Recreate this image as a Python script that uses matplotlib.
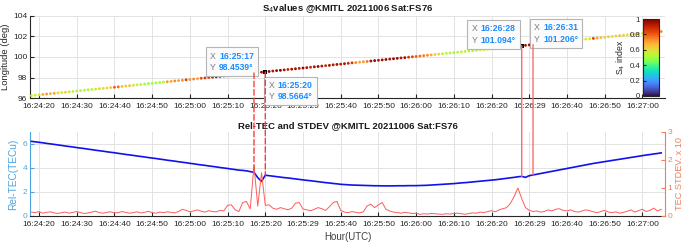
import matplotlib
matplotlib.use("Agg")
import matplotlib.pyplot as plt
import matplotlib.dates as mdates
import numpy as np
import pandas as pd
from matplotlib.offsetbox import TextArea, HPacker, AnnotationBbox
from matplotlib.patches import ConnectionPatch

plt.rcParams['font.family'] = ['Liberation Sans', 'DejaVu Sans']

# ---------------- data ----------------
date = "2021-10-06"
start_time = "16:24:18"          # first sample, 1 Hz

longitude = [
    96.26, 96.30, 96.33, 96.37, 96.41, 96.45, 96.48, 96.52, 96.56, 96.59,
    96.63, 96.67, 96.70, 96.74, 96.78, 96.82, 96.85, 96.89, 96.93, 96.96,
    97.00, 97.04, 97.07, 97.11, 97.15, 97.19, 97.22, 97.26, 97.30, 97.33,
    97.38, 97.42, 97.45, 97.49, 97.53, 97.57, 97.60, 97.64, 97.68, 97.71,
    97.75, 97.79, 97.82, 97.86, 97.90, 97.94, 97.97, 98.01, 98.05, 98.08,
    98.12, 98.16, 98.19, 98.23, 98.27, 98.31, 98.34, 98.38, 98.42, 98.45,
    98.49, 98.53, 98.57, 98.60, 98.64, 98.68, 98.71, 98.75, 98.79, 98.82,
    98.86, 98.90, 98.93, 98.97, 99.01, 99.05, 99.08, 99.12, 99.16, 99.19,
    99.24, 99.28, 99.31, 99.35, 99.39, 99.43, 99.46, 99.50, 99.54, 99.57,
    99.61, 99.65, 99.68, 99.72, 99.76, 99.80, 99.83, 99.87, 99.91, 99.94,
    99.98, 100.02, 100.05, 100.09, 100.13, 100.17, 100.20, 100.24, 100.28, 100.31,
    100.35, 100.39, 100.42, 100.46, 100.50, 100.54, 100.57, 100.61, 100.65, 100.68,
    100.72, 100.76, 100.79, 100.83, 100.87, 100.91, 100.94, 100.98, 101.02, 101.05,
    101.09, 101.13, 101.17, 101.21, 101.24, 101.28, 101.32, 101.35, 101.39, 101.43,
    101.47, 101.51, 101.54, 101.58, 101.62, 101.66, 101.69, 101.73, 101.77, 101.80,
    101.84, 101.88, 101.91, 101.95, 101.99, 102.03, 102.06, 102.10, 102.14, 102.17,
    102.21, 102.25, 102.28, 102.32, 102.36, 102.40, 102.43, 102.47,
]

s4_index = [
    0.54, 0.56, 0.58, 0.70, 0.72, 0.68, 0.71, 0.62, 0.60, 0.63,
    0.60, 0.52, 0.55, 0.50, 0.53, 0.56, 0.52, 0.60, 0.62, 0.59,
    0.61, 0.64, 0.80, 0.78, 0.66, 0.64, 0.66, 0.56, 0.54, 0.55,
    0.50, 0.48, 0.52, 0.49, 0.51, 0.50, 0.72, 0.70, 0.74, 0.71,
    0.73, 0.85, 0.72, 0.74, 0.70, 0.82, 0.86, 0.84, 0.92, 0.95,
    0.96, 0.93, 0.98, 0.95, 1.00, 0.97, 0.94, 0.98, 0.99, 1.00,
    0.97, 0.95, 1.00, 0.98, 0.93, 0.96, 0.99, 0.94, 0.90, 0.95,
    0.96, 0.92, 0.97, 0.94, 0.89, 0.95, 0.98, 0.93, 0.88, 0.94,
    0.93, 0.95, 0.92, 0.94, 0.90, 0.86, 0.74, 0.70, 0.72, 0.76,
    0.95, 0.97, 0.93, 0.96, 0.98, 0.94, 0.97, 0.95, 0.93, 0.96,
    0.86, 0.84, 0.80, 0.78, 0.76, 0.74, 0.70, 0.64, 0.62, 0.60,
    0.52, 0.55, 0.50, 0.53, 0.56, 0.52, 0.55, 0.50, 0.53, 0.56,
    0.54, 0.56, 0.52, 0.58, 0.55, 0.62, 0.66, 0.86, 0.92, 0.95,
    1.00, 0.94, 0.96, 1.00, 0.90, 0.80, 0.74, 0.70, 0.66, 0.72,
    0.64, 0.66, 0.70, 0.62, 0.64, 0.60, 0.62, 0.58, 0.60, 0.84,
    0.70, 0.66, 0.62, 0.64, 0.60, 0.62, 0.66, 0.63, 0.60, 0.64,
    0.66, 0.62, 0.60, 0.70, 0.72, 0.76, 0.86, 0.74,
]

rel_tec = [
    6.22, 6.18, 6.14, 6.10, 6.05, 6.01, 5.97, 5.92, 5.88, 5.83,
    5.79, 5.75, 5.70, 5.66, 5.62, 5.57, 5.53, 5.48, 5.44, 5.40,
    5.35, 5.31, 5.27, 5.22, 5.18, 5.13, 5.09, 5.05, 5.00, 4.96,
    4.92, 4.87, 4.83, 4.79, 4.74, 4.70, 4.65, 4.61, 4.57, 4.52,
    4.48, 4.44, 4.39, 4.35, 4.30, 4.26, 4.22, 4.17, 4.13, 4.09,
    4.04, 4.00, 3.96, 3.91, 3.87, 3.82, 3.80, 3.76, 3.70, 3.64,
    3.20, 2.88, 3.40, 3.36, 3.32, 3.28, 3.24, 3.20, 3.17, 3.13,
    3.09, 3.05, 3.01, 2.97, 2.94, 2.90, 2.86, 2.82, 2.78, 2.75,
    2.71, 2.68, 2.64, 2.62, 2.60, 2.58, 2.57, 2.56, 2.55, 2.54,
    2.53, 2.52, 2.52, 2.51, 2.51, 2.51, 2.51, 2.52, 2.52, 2.52,
    2.53, 2.53, 2.53, 2.54, 2.55, 2.56, 2.58, 2.60, 2.62, 2.64,
    2.66, 2.68, 2.70, 2.73, 2.76, 2.78, 2.81, 2.84, 2.87, 2.90,
    2.93, 2.96, 2.99, 3.02, 3.06, 3.10, 3.14, 3.18, 3.22, 3.27,
    3.30, 3.22, 3.36, 3.42, 3.48, 3.54, 3.60, 3.66, 3.72, 3.78,
    3.84, 3.90, 3.96, 4.02, 4.08, 4.14, 4.20, 4.26, 4.32, 4.38,
    4.43, 4.48, 4.53, 4.58, 4.63, 4.68, 4.73, 4.78, 4.83, 4.88,
    4.93, 4.98, 5.03, 5.08, 5.12, 5.17, 5.21, 5.26,
]

tec_stdev_x10 = [
    0.14, 0.12, 0.16, 0.10, 0.13, 0.15, 0.11, 0.09, 0.12, 0.14,
    0.10, 0.13, 0.16, 0.12, 0.09, 0.11, 0.14, 0.17, 0.12, 0.10,
    0.13, 0.15, 0.11, 0.12, 0.16, 0.13, 0.10, 0.12, 0.15, 0.11,
    0.13, 0.17, 0.12, 0.10, 0.14, 0.12, 0.15, 0.13, 0.11, 0.16,
    0.24, 0.20, 0.15, 0.18, 0.22, 0.17, 0.14, 0.19, 0.16, 0.15,
    0.20, 0.18, 0.38, 0.40, 0.22, 0.16, 0.48, 0.52, 0.25, 1.80,
    0.35, 1.55, 0.38, 0.40, 0.28, 0.24, 0.30, 0.26, 0.22, 0.28,
    0.46, 0.48, 0.25, 0.22, 0.19, 0.24, 0.30, 0.26, 0.20, 0.33,
    0.48, 0.52, 0.20, 0.14, 0.12, 0.16, 0.13, 0.11, 0.15, 0.36,
    0.42, 0.30, 0.40, 0.48, 0.24, 0.18, 0.14, 0.12, 0.10, 0.13,
    0.11, 0.09, 0.10, 0.06, 0.08, 0.07, 0.09, 0.08, 0.07, 0.06,
    0.08, 0.07, 0.09, 0.10, 0.08, 0.06, 0.09, 0.11, 0.10, 0.14,
    0.12, 0.16, 0.19, 0.15, 0.22, 0.26, 0.30, 0.45, 0.70, 1.00,
    0.62, 0.30, 0.20, 0.16, 0.18, 0.14, 0.16, 0.22, 0.18, 0.24,
    0.26, 0.20, 0.18, 0.22, 0.16, 0.14, 0.18, 0.22, 0.19, 0.15,
    0.12, 0.16, 0.20, 0.14, 0.12, 0.15, 0.10, 0.13, 0.17, 0.22,
    0.14, 0.19, 0.24, 0.16, 0.20, 0.28, 0.18, 0.24,
]

tick_times = ["16:24:20", "16:24:30", "16:24:40", "16:24:50", "16:25:00",
              "16:25:10", "16:25:20", "16:25:30", "16:25:40", "16:25:50",
              "16:26:00", "16:26:10", "16:26:20", "16:26:30", "16:26:40",
              "16:26:50", "16:27:00"]
tick_labels = ["16:24:20", "16:24:30", "16:24:40", "16:24:50", "16:25:00",
               "16:25:10", "16:25:20", "16:25:29", "16:25:40", "16:25:50",
               "16:26:00", "16:26:10", "16:26:20", "16:26:29", "16:26:40",
               "16:26:50", "16:27:00"]

tip_times = ["16:25:17", "16:25:20", "16:26:28", "16:26:31"]
tip_lons = [98.4539, 98.5664, 101.094, 101.206]
tip_lon_labels = ["98.4539°", "98.5664°", "101.094°", "101.206°"]

# ---------------- figure ----------------
W, H = 685, 243
fig = plt.figure(figsize=(W / 100, H / 100), dpi=100)

def fx(px):
    return px / W

def fy(py):
    return 1 - py / H

ax1 = fig.add_axes([fx(30), fy(98.3), fx(635), (98.3 - 15.7) / H])
ax2 = fig.add_axes([fx(30), fy(216), fx(635), (216 - 132) / H])

times = pd.date_range(f"{date} {start_time}", periods=len(longitude), freq="s")
xnum = mdates.date2num(times.to_pydatetime())
ticks = mdates.date2num(pd.to_datetime([f"{date} {t}" for t in tick_times]).to_pydatetime())
tipx = mdates.date2num(pd.to_datetime([f"{date} {t}" for t in tip_times]).to_pydatetime())
xl = (mdates.date2num(pd.Timestamp(f"{date} 16:24:17.6").to_pydatetime()),
      mdates.date2num(pd.Timestamp(f"{date} 16:27:06.0").to_pydatetime()))

grid_c = "#e3e3e3"
dark = "#262626"
tick_fs = 6.0

# ---- top panel ----
sc = ax1.scatter(xnum, longitude, c=s4_index, cmap="turbo", vmin=0, vmax=1,
                 s=4.2, marker="o", linewidths=0, zorder=3)
ax1.scatter(tipx, tip_lons, c="k", s=5, marker="s", linewidths=0, zorder=4)
ax1.set_xlim(*xl)
ax1.set_ylim(96, 104)
ax1.set_yticks([96, 98, 100, 102, 104])
ax1.set_xticks(ticks)
ax1.set_xticklabels(tick_labels)
ax1.set_ylabel("Longitude (deg)", fontsize=6.8, labelpad=2, color=dark)
ax1.set_title("S$_4$values @KMITL 20211006 Sat:FS76", fontsize=6.8,
              fontweight="bold", pad=3, color="#1a1a1a")
ax1.grid(True, color=grid_c, lw=0.7)
ax1.set_axisbelow(True)
for s in ["top", "right"]:
    ax1.spines[s].set_visible(False)
for s in ["left", "bottom"]:
    ax1.spines[s].set_color(dark)
    ax1.spines[s].set_linewidth(0.8)
ax1.tick_params(axis="x", direction="in", length=3, labelsize=tick_fs, colors=dark, pad=3.5)
ax1.tick_params(axis="y", direction="in", length=3, labelsize=tick_fs, colors=dark, pad=2)

# data tips
tip_offsets = [((1, 0), (0, 0.7)), ((0, 1), (2.2, -6.5)),
               ((1, 0), (-4.3, 0.7)), ((0, 0), (0.7, 0.7))]
for i in range(len(tip_times)):
    ta = TextArea("X\nY", textprops=dict(color="#7a7a7a", fontsize=6.2, linespacing=1.35))
    tb = TextArea(f"{tip_times[i]}\n{tip_lon_labels[i]}",
                  textprops=dict(color="#1a8cff", fontsize=6.2, fontweight="bold",
                                 linespacing=1.35))
    pack = HPacker(children=[ta, tb], pad=0, sep=2.5, align="center")
    align, off = tip_offsets[i]
    ab = AnnotationBbox(pack, (tipx[i], tip_lons[i]), xybox=off,
                        boxcoords="offset points", box_alignment=align,
                        frameon=True, pad=0.3,
                        bboxprops=dict(edgecolor="#b5b5b5", facecolor="#fbfbfb",
                                       lw=0.8, boxstyle="square,pad=0.3"))
    ab.set_zorder(6)
    ax1.add_artist(ab)

# colorbar inside the top axes
cax = fig.add_axes([fx(643), fy(96), fx(16), (96 - 19) / H])
cb = fig.colorbar(sc, cax=cax)
cb.set_ticks([0, 0.2, 0.4, 0.6, 0.8, 1])
cb.set_ticklabels(["0", "0.2", "0.4", "0.6", "0.8", "1"])
cax.yaxis.set_ticks_position("left")
cax.yaxis.set_label_position("left")
cax.tick_params(direction="in", length=2, labelsize=5.6, colors=dark, pad=2)
cb.set_label("S$_4$ index", fontsize=6.3, labelpad=2, color=dark)
cb.outline.set_edgecolor(dark)
cb.outline.set_linewidth(0.8)

# ---- bottom panel ----
blue_ax = "#4da3df"
red_ax = "#ee7f5c"
ax2.plot(xnum, rel_tec, color="#1111ee", lw=1.2, zorder=3)
ax2.set_xlim(*xl)
ax2.set_ylim(0, 7)
ax2.set_yticks([0, 2, 4, 6])
ax2.set_xticks(ticks)
ax2.set_xticklabels(tick_labels)
ax2.grid(True, color=grid_c, lw=0.7)
ax2.set_axisbelow(True)
ax2.set_ylabel("Rel-TEC(TECu)", fontsize=7.3, color=blue_ax, labelpad=3)
ax2.set_xlabel("Hour(UTC)", fontsize=7, color="#404040", labelpad=3)
ax2.set_title("Rel-TEC and STDEV @KMITL 20211006 Sat:FS76", fontsize=6.8,
              fontweight="bold", pad=3, color="#1a1a1a")
ax2.spines["top"].set_visible(False)
ax2.spines["right"].set_visible(False)
ax2.spines["left"].set_color(blue_ax)
ax2.spines["bottom"].set_color(dark)
ax2.spines["left"].set_linewidth(0.8)
ax2.spines["bottom"].set_linewidth(0.8)
ax2.tick_params(axis="x", direction="in", length=3, labelsize=tick_fs, colors=dark, pad=3.5)
ax2.tick_params(axis="y", direction="in", length=3, labelsize=tick_fs, colors=blue_ax, pad=2)

ax2r = ax2.twinx()
ax2r.plot(xnum, tec_stdev_x10, color="#ff5a5a", lw=0.7, zorder=2)
ax2r.set_ylim(0, 3)
ax2r.set_yticks([0, 1, 2, 3])
for s in ["top", "left", "bottom"]:
    ax2r.spines[s].set_visible(False)
ax2r.spines["right"].set_color(red_ax)
ax2r.spines["right"].set_linewidth(0.8)
ax2r.tick_params(axis="y", direction="in", length=3, labelsize=tick_fs, colors=red_ax, pad=2)
ax2r.set_ylabel("TEC STDEV. x 10", fontsize=6.6, color=red_ax, labelpad=2)

# connecting lines from data tips to Rel-TEC curve
for i in range(len(tip_times)):
    idx = int(round((tipx[i] - xnum[0]) * 86400))
    dashed = i < 2
    con = ConnectionPatch(xyA=(tipx[i], tip_lons[i]), coordsA=ax1.transData,
                          xyB=(tipx[i], rel_tec[idx]), coordsB=ax2.transData,
                          color="#ff3b3b" if dashed else "#ff6b6b",
                          lw=1.0, ls=(0, (4, 2)) if dashed else "-", zorder=5)
    fig.add_artist(con)

fig.savefig("out.png", dpi=100)
